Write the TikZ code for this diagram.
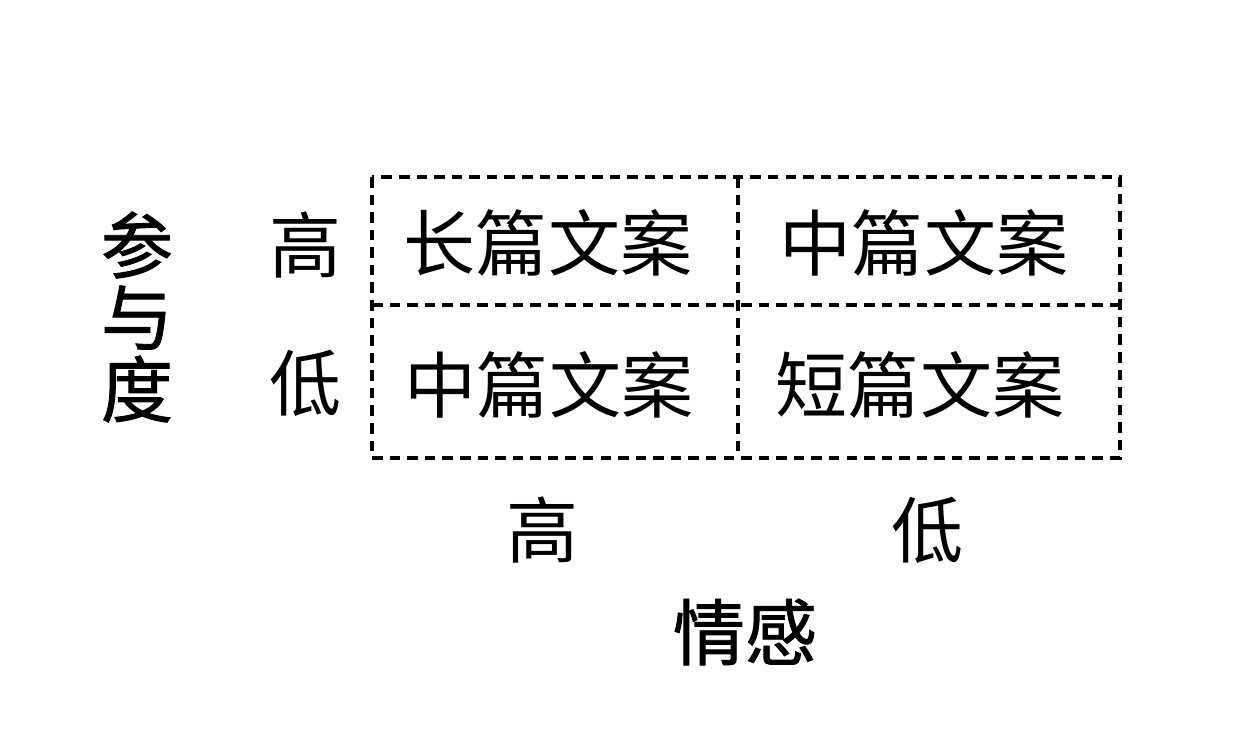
\documentclass[tikz,border=0pt]{standalone}
\usepackage{fontspec}
\newfontfamily\cjk{Noto Sans CJK SC}
\newfontfamily\cjkheavy[FakeBold=1.2]{Noto Sans CJK SC}
\begin{document}
\begin{tikzpicture}[x=0.02cm, y=-0.02cm, every node/.style={font=\cjk\fontsize{41}{44}\selectfont, inner sep=0pt},
    grid/.style={line width=2.1pt, dash pattern=on 6pt off 4pt},
    axis/.style={font=\cjkheavy\fontsize{41}{41}\selectfont, align=center}]
    \useasboundingbox (0,0) rectangle (1240,745);
    % dashed grid
    \draw[grid] (372,177) rectangle (1120,458);
    \draw[grid] (738,177) -- (738,458);
    \draw[grid] (372,305) -- (1120,305);
    % cells
    \node (hh) at (548,243) {长篇文案};
    \node (hl) at (924,243) {中篇文案};
    \node (lh) at (549,385) {中篇文案};
    \node (ll) at (920,385) {短篇文案};
    % row labels
    \node (rhigh) at (306,245) {高};
    \node (rlow) at (306,383) {低};
    \node (rtitle) [axis] at (137,317) {参\\与\\度};
    % column labels
    \node (chigh) at (543,530) {高};
    \node (clow) at (928,530) {低};
    \node (ctitle) [axis] at (745,632) {情感};
  \end{tikzpicture}
\end{document}
